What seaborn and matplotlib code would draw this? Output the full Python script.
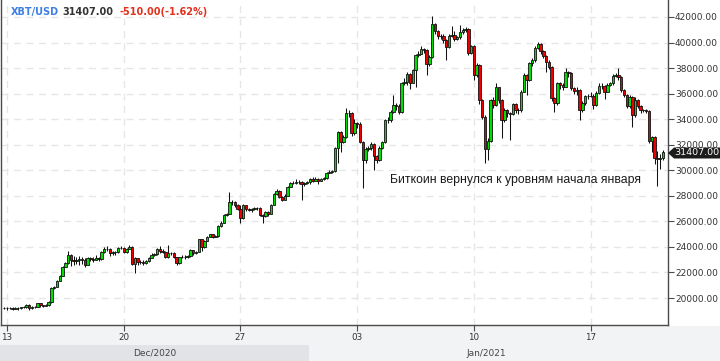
import numpy as np
import pandas as pd
import matplotlib
matplotlib.use("Agg")
import matplotlib.pyplot as plt
import matplotlib.dates as mdates
from matplotlib.patches import Rectangle, Polygon
import seaborn as sns

sns.set_theme(style="white")
plt.rcParams["font.family"] = ["DejaVu Sans"]

# ---------------- data (4-hour candles) ----------------
start = "2020-12-12 20:00"
first_open = 19250

closes = [
    19220, 19200, 19250, 19180, 19230, 19200, 19260, 19300, 19480, 19250,
    19330, 19300, 19580, 19420, 19400, 19430, 19700, 20780, 20900, 21360,
    21750, 22450, 22720, 23350, 23000, 22900, 22980, 23050, 23000, 22600,
    23100, 23050, 23000, 23150, 23050, 23620, 23800, 23850, 23500, 23600,
    23580, 23900, 23950, 23600, 23850, 24000, 22700, 23100, 22800, 22850,
    22750, 22900, 23150, 23400, 23450, 23830, 23650, 23600, 23200, 23520,
    23520, 23190, 22750, 23190, 23250, 23200, 23280, 23760, 23500, 23620,
    24590, 23960, 24480, 24800, 24990, 24800, 24850, 25640, 25900, 26490,
    26550, 27520, 27540, 27300, 27000, 26240, 27280, 26950, 26900, 26950,
    27020, 27050, 26500, 26400, 26700, 26600, 27280, 28140, 28400, 27900,
    27700, 28000, 28720, 28970, 29000, 29050, 29100, 28900, 29000, 29050,
    29330, 29200, 29350, 29200, 29300, 29400, 29800, 29850, 29950, 31740,
    33020, 32200, 32630, 34510, 34500, 32900, 33700, 33650, 32240, 30800,
    31660, 31740, 32040, 31140, 30800, 31780, 32190, 33930, 33950, 34590,
    35110, 35000, 34600, 36810, 36900, 37510, 36830, 37850, 39020, 39100,
    39470, 39420, 38300, 38900, 41450, 40900, 40510, 40550, 40200, 39670,
    40550, 40620, 40300, 40400, 40850, 40950, 41040, 39160, 39730, 37460,
    38240, 35500, 34200, 31670, 32300, 35500, 35100, 36500, 35500, 33930,
    34700, 34500, 34400, 35190, 34700, 34720, 36150, 37460, 37100, 38370,
    38630, 39550, 39890, 39300, 38950, 38500, 38100, 35640, 35250, 36810,
    36700, 36550, 37720, 37600, 36470, 36200, 36300, 34720, 35250, 35810,
    35850, 35830, 35080, 36080, 36600, 36620, 36140, 36700, 36810, 37380,
    37460, 37300, 36300, 35900, 35000, 35760, 34330, 35500, 35000, 34700,
    34700, 34650, 32300, 32600, 30960, 30900, 30950, 31407,
]

highs = [
    19300, 19280, 19320, 19300, 19290, 19300, 19330, 19380, 19520, 19500,
    19400, 19380, 19650, 19600, 19480, 19500, 19750, 20850, 20980, 21400,
    21800, 22500, 22800, 23700, 23450, 23300, 23200, 23300, 23200, 23100,
    23200, 23250, 23200, 23350, 23250, 23700, 24000, 24050, 23900, 23700,
    23650, 24000, 24100, 24000, 23950, 24150, 24050, 23200, 23150, 23000,
    23000, 23000, 23250, 23500, 23550, 23900, 24070, 23800, 23700, 24150,
    23600, 23580, 23200, 23250, 23400, 23350, 23400, 23800, 23780, 23700,
    24650, 24600, 24550, 24850, 25050, 25000, 24950, 25700, 26000, 26550,
    26650, 28320, 27700, 27600, 27400, 27300, 27400, 27300, 27050, 27050,
    27100, 27150, 27100, 26550, 26800, 26800, 27350, 28200, 28550, 28450,
    28000, 28150, 28800, 29100, 29150, 29300, 29250, 29200, 29100, 29150,
    29400, 29450, 29450, 29400, 29400, 29500, 29850, 30050, 30050, 31800,
    33100, 33100, 32800, 34880, 34700, 34600, 34000, 33800, 33800, 32300,
    31800, 31900, 32200, 32100, 31200, 31900, 32300, 34000, 34200, 34700,
    35900, 35300, 35200, 36900, 37200, 37700, 37600, 37900, 39100, 39300,
    39700, 39600, 39500, 39000, 42080, 41500, 41000, 40700, 40650, 40300,
    40650, 41300, 40900, 40500, 41400, 41100, 41200, 41100, 39800, 39800,
    38400, 38300, 35600, 34300, 32500, 35600, 35700, 36800, 36550, 35600,
    34900, 34800, 34600, 35300, 35300, 34900, 36300, 37600, 37500, 38500,
    38800, 39700, 40070, 39950, 39400, 39000, 38600, 38200, 35700, 36900,
    36900, 36800, 38000, 37800, 37700, 36500, 36500, 36400, 35400, 35900,
    36000, 36100, 36000, 36200, 36800, 36800, 36700, 36800, 36950, 37500,
    37600, 38010, 37400, 36400, 36000, 35900, 35800, 35700, 35600, 35100,
    34800, 34800, 34700, 32700, 32700, 31500, 31300, 31550,
]

lows = [
    19120, 19100, 19150, 19080, 19140, 19100, 19150, 19200, 19250, 19050,
    19150, 19200, 19280, 19300, 19320, 19350, 19380, 19650, 20700, 20850,
    21300, 21700, 22400, 22650, 22500, 22600, 22700, 22550, 22700, 22450,
    22550, 22900, 22850, 22950, 22900, 22950, 23550, 23650, 23300, 23400,
    23400, 23500, 23800, 23500, 23550, 23800, 22600, 21950, 22550, 22650,
    22600, 22700, 22850, 23100, 23300, 23400, 23550, 23500, 23100, 23130,
    23400, 23100, 22580, 22700, 23100, 23050, 23150, 23250, 23400, 23450,
    23600, 23700, 23950, 24450, 24750, 24700, 24750, 24800, 25600, 25880,
    26400, 26550, 27300, 27100, 26900, 25850, 26200, 26850, 26800, 26750,
    26900, 26900, 26400, 25870, 26350, 26450, 26550, 27250, 28050, 27800,
    27600, 27650, 27950, 28700, 28900, 28950, 28900, 27670, 28800, 28900,
    28950, 29100, 29150, 28900, 29150, 29250, 29350, 29750, 29800, 29900,
    30600, 31400, 32100, 32550, 34200, 32700, 32800, 33300, 32100, 28600,
    30600, 31500, 31600, 30020, 30600, 30750, 31700, 32100, 33700, 33800,
    34500, 34700, 34400, 34500, 36700, 36700, 36400, 36800, 36540, 38900,
    39100, 39200, 37460, 38200, 38800, 40700, 40300, 40300, 40000, 38630,
    39600, 40400, 40100, 40200, 40300, 40700, 40800, 39000, 39100, 37070,
    37300, 35200, 34000, 30570, 30800, 32200, 34900, 35000, 35300, 32530,
    33800, 34200, 32370, 34300, 34500, 34400, 34600, 36100, 35900, 37000,
    38200, 38500, 39500, 39100, 38800, 37720, 37900, 35400, 34590, 35100,
    36400, 36300, 36500, 37300, 36300, 36000, 35900, 33930, 34600, 35100,
    35600, 35700, 34800, 35000, 36000, 36400, 35600, 36100, 36600, 36700,
    37300, 37100, 36100, 35700, 34900, 34900, 33410, 34200, 34900, 34500,
    34600, 34500, 32100, 31400, 30500, 28800, 30100, 30800,
]

y_ticks = [20000, 22000, 24000, 26000, 28000, 30000, 32000, 34000,
           36000, 38000, 40000, 42000]
x_tick_dates = ["2020-12-13", "2020-12-20", "2020-12-27",
                "2021-01-03", "2021-01-10", "2021-01-17"]
x_tick_labels = ["13", "20", "27", "03", "10", "17"]
month_labels = ["Dec/2020", "Jan/2021"]
symbol = "XBT/USD"
last_price = 31407.00
change = -510.00
change_pct = -1.62
note = "Биткоин вернулся к уровням начала января"

# ---------------- build table ----------------
dates = pd.date_range(start, periods=len(closes), freq="4h")
df = pd.DataFrame({"date": dates, "close": closes, "high": highs, "low": lows})
df["open"] = [first_open] + closes[:-1]
df["high"] = df[["high", "open", "close"]].max(axis=1)
df["low"] = df[["low", "open", "close"]].min(axis=1)
df["x"] = mdates.date2num(df["date"])
df["dir"] = np.where(df["close"] >= df["open"], "up", "down")

W, H = 720, 361
fig = plt.figure(figsize=(W / 100, H / 100), dpi=100)
fig.patch.set_facecolor("white")

def fx(px):
    return px / W

def fy(py):
    return 1 - py / H

# bottom grey area and month band
fig.add_artist(Rectangle((0, 0), 1, fy(326), transform=fig.transFigure,
                         facecolor="#f2f3f5", edgecolor="none", zorder=-2))
fig.add_artist(Rectangle((0, 0), fx(309), fy(345), transform=fig.transFigure,
                         facecolor="#e2e3e6", edgecolor="none", zorder=-1))

ax = fig.add_axes([fx(1), fy(325), fx(667), 325 / H])
ax.set_facecolor("white")

t0 = mdates.date2num(pd.Timestamp("2020-12-13"))
ax.set_xlim(t0 - 0.36, t0 + 39.64)
ax.set_ylim(17890, 43330)

# grid
for v in y_ticks:
    ax.axhline(v, color="#e6e6e6", lw=1.0, ls=(0, (5, 4)), zorder=0)
xt = mdates.date2num(pd.to_datetime(x_tick_dates))
for v in xt:
    ax.axvline(v, color="#e6e6e6", lw=1.0, ls=(0, (5, 4)), zorder=0)

# wicks
ax.vlines(df["x"], df["low"], df["high"], color="#111111", lw=0.75, zorder=2)

# candle bodies
pal = {"up": "#00dd00", "down": "#ee0000"}
body_w = 4 / 24 * 0.88
heights = (df["close"] - df["open"]).abs().clip(lower=8)
bottoms = df[["open", "close"]].min(axis=1)
ax.bar(df["x"], heights, bottom=bottoms, width=body_w,
       color=[pal[d] for d in df["dir"]], edgecolor="#111111",
       linewidth=0.6, zorder=3)

# axes styling
ax.spines["top"].set_visible(False)
for s in ["left", "right", "bottom"]:
    ax.spines[s].set_color("#4a4a4a")
    ax.spines[s].set_linewidth(1.0)

ax.yaxis.tick_right()
ax.set_yticks(y_ticks)
ax.set_yticklabels([f"{v:.2f}" for v in y_ticks])
ax.set_xticks(xt)
ax.set_xticklabels(x_tick_labels)
ax.tick_params(axis="y", which="both", direction="out", length=4, width=0.8,
               color="#4a4a4a", labelsize=6.5, labelcolor="#333333", pad=1,
               right=True, left=False)
ax.tick_params(axis="x", which="both", direction="out", length=4, width=0.8,
               color="#4a4a4a", labelsize=6.3, labelcolor="#333333", pad=2,
               bottom=True)
ax.set_xlabel("")
ax.set_ylabel("")

# month labels
fig.text(fx(155), fy(353), month_labels[0], ha="center", va="center",
         fontsize=6.5, color="#444444")
fig.text(fx(486), fy(353), month_labels[1], ha="center", va="center",
         fontsize=6.5, color="#444444")

# header
fig.text(fx(11), fy(12), symbol, ha="left", va="center", fontsize=7,
         fontweight="bold", color="#3d7fe3")
fig.text(fx(62), fy(12), f"{last_price:.2f}", ha="left", va="center",
         fontsize=7, fontweight="bold", color="#333333")
fig.text(fx(119), fy(12), f"{change:.2f}({change_pct:.2f}%)", ha="left",
         va="center", fontsize=7, fontweight="bold", color="#e0321c")

# annotation
fig.text(fx(390), fy(180), note, ha="left", va="center", fontsize=8.85,
         family=["Liberation Sans", "DejaVu Sans"], color="#1a1a1a")

# last price tag
py = 153
pts = [(fx(668), fy(py)), (fx(674), fy(py - 5.5)), (fx(720), fy(py - 5.5)),
       (fx(720), fy(py + 5.5)), (fx(674), fy(py + 5.5))]
fig.add_artist(Polygon(pts, closed=True, transform=fig.transFigure,
                       facecolor="#1c1c1c", edgecolor="none", zorder=5))
fig.text(fx(696.5), fy(py), f"{last_price:.2f}", ha="center", va="center",
         fontsize=6.8, color="white", zorder=6)

fig.savefig("out.png", dpi=100, facecolor=fig.get_facecolor())
